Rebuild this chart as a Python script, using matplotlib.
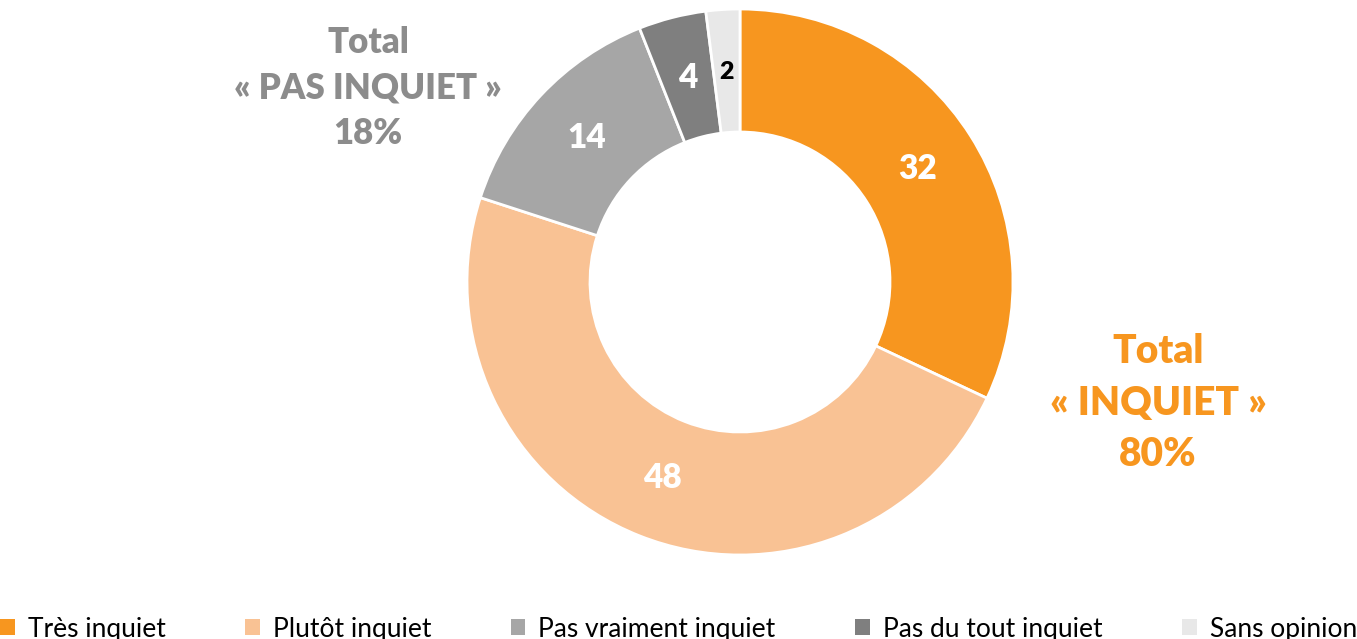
import numpy as np
import matplotlib.pyplot as plt

plt.rcParams['font.family'] = ['Lato', 'DejaVu Sans']

categories = ['Très inquiet', 'Plutôt inquiet', 'Pas vraiment inquiet',
              'Pas du tout inquiet', 'Sans opinion']
values = [32, 48, 14, 4, 2]
colors = ['#F7961F', '#F9C294', '#A6A6A6', '#7F7F7F', '#E8E8E8']
label_colors = ['white', 'white', 'white', 'white', 'black']
total_inquiet = 80
total_pas_inquiet = 18

W, H = 1357, 639
fig = plt.figure(figsize=(W / 100, H / 100), dpi=100)
ax = fig.add_axes([0, 0, 1, 1])

cx, cy, R = 740, H - 282, 273
ring = 123

wedges, _ = ax.pie(values, colors=colors, startangle=90, counterclock=False,
                   center=(cx, cy), radius=R, frame=True,
                   wedgeprops=dict(width=ring, edgecolor='white', linewidth=2))
ax.set_xlim(0, W)
ax.set_ylim(0, H)
ax.set_aspect('equal')
ax.axis('off')

rmid = R - ring / 2 - 1
for w, v, c in zip(wedges, values, label_colors):
    ang = np.deg2rad((w.theta1 + w.theta2) / 2)
    fs = 24 if v > 2 else 18
    ax.text(cx + rmid * np.cos(ang), cy + rmid * np.sin(ang), str(v),
            ha='center', va='center', color=c, fontsize=fs, fontweight='heavy')

ax.text(1158, H - 403, 'Total\n« INQUIET »\n%d%%' % total_inquiet,
        ha='center', va='center', color='#F7961F', fontsize=28,
        fontweight='heavy', linespacing=1.47)
ax.text(368, H - 88, 'Total\n« PAS INQUIET »\n%d%%' % total_pas_inquiet,
        ha='center', va='center', color='#8C8C8C', fontsize=25,
        fontweight='heavy', linespacing=1.45)

leg = ax.legend(wedges, categories, loc='lower left', ncol=5, mode='expand',
                bbox_to_anchor=(0.0, -0.004, 1.0, 0.04), frameon=False,
                fontsize=19, handlelength=0.55, handleheight=0.55,
                handletextpad=0.5, borderaxespad=0, borderpad=0)
for h in leg.legend_handles:
    h.set_edgecolor('none')

fig.savefig('out.png', dpi=100)
